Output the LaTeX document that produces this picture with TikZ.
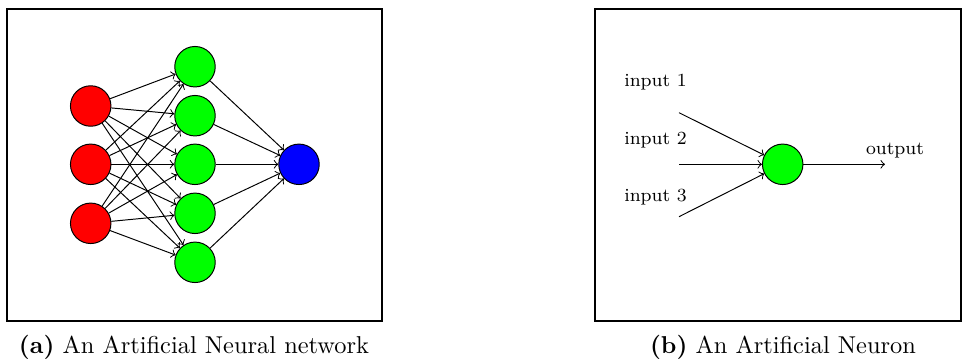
\documentclass[tikz,border=0pt]{standalone}
\usepackage{tikz}
\begin{document}
\begin{tikzpicture}[x=0.41pt,y=-0.41pt,
  neuron/.style={circle,draw,inner sep=0pt,minimum size=16.6pt},
  inlayer/.style={neuron,fill=red},
  hidlayer/.style={neuron,fill=green},
  outlayer/.style={neuron,fill=blue},
  link/.style={->},
  panel/.style={draw,line width=0.5pt},
  caption/.style={anchor=base,font=\normalsize},
  lbl/.style={anchor=base,font=\fontsize{7.6}{9}\selectfont,inner sep=0pt}]
\useasboundingbox (0,0) rectangle (962,362);

% (a) network panel
\draw[panel] (7,9) rectangle (382,321);
\foreach \i/\y in {1/106,2/164.3,3/223.3}
  \node[inlayer] (I\i) at (90.7,\y) {};
\foreach \j/\y in {1/66.7,2/115.7,3/164.3,4/213.3,5/262.3}
  \node[hidlayer] (H\j) at (195,\y) {};
\node[outlayer] (O) at (299,164.3) {};
\foreach \i in {1,2,3}
  \foreach \j in {1,...,5}
    \draw[link] (I\i) -- (H\j);
\foreach \j in {1,...,5}
  \draw[link] (H\j) -- (O);
\node[caption] (capa) at (194,353) {\textbf{(a)} An Artificial Neural network};

% (b) single neuron panel
\draw[panel] (595,9) rectangle (961,321);
\node[hidlayer] (N) at (782.7,164.3) {};
\coordinate (x1) at (679,112.7);
\coordinate (x2) at (679,164.3);
\coordinate (x3) at (679,216.7);
\coordinate (y) at (885,164.3);
\draw[link] (x1) -- (N);
\draw[link] (x2) -- (N);
\draw[link] (x3) -- (N);
\draw[link] (N) -- (y);
\node[lbl] (l1) at (655.5,86.7) {input 1};
\node[lbl] (l2) at (655.5,144) {input 2};
\node[lbl] (l3) at (655.5,201.7) {input 3};
\node[lbl] (lo) at (895,154) {output};
\node[caption] (capb) at (783,353) {\textbf{(b)} An Artificial Neuron};
\end{tikzpicture}
\end{document}
